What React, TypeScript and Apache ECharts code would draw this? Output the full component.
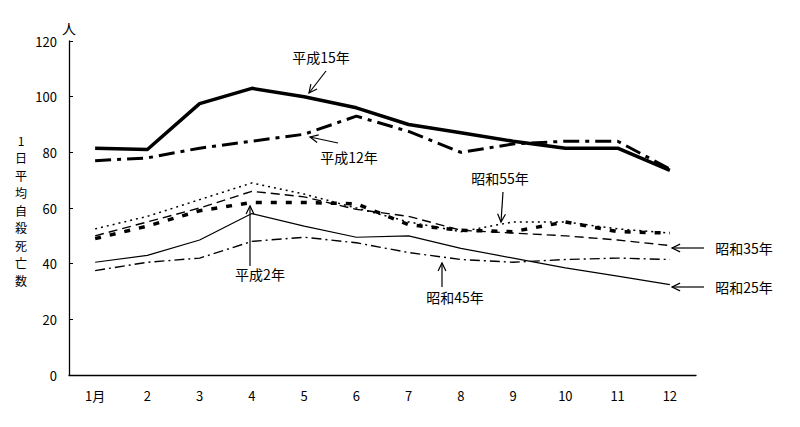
import React, { useEffect, useRef } from "react";
import * as echarts from "echarts";

const months = ["1月", "2", "3", "4", "5", "6", "7", "8", "9", "10", "11", "12"];
const yTicks = { min: 0, max: 120, interval: 20 };

const heisei15 = [81.5, 81, 97.5, 103, 100, 96, 90, 87, 84, 81.5, 81.5, 73.5];
const heisei12 = [77, 78, 81.5, 84, 86.5, 93, 87.5, 80, 83, 84, 84, 74];
const heisei2 = [49, 53.5, 59, 62, 62, 61.5, 54, 52, 51.5, 55, 51.5, 51];
const showa55 = [52.5, 57, 63, 69, 65, 60, 55, 51.5, 55, 55, 52.5, 51];
const showa35 = [50, 55, 60, 66, 64, 59.5, 57, 52, 51, 50, 48.5, 46.5];
const showa45 = [37.5, 40.5, 42, 48, 49.5, 47.5, 44, 41.5, 40.5, 41.5, 42, 41.5];
const showa25 = [40.5, 43, 48.5, 58, 53.5, 49.5, 50, 45.5, 42, 38.5, 35.5, 32.5];

const yAxisTitle = ["1", "日", "平", "均", "自", "殺", "死", "亡", "数"];

const FONT = '"Noto Sans CJK JP", "Noto Sans", sans-serif';

function arrow(x1: number, y1: number, x2: number, y2: number) {
  const ang = Math.atan2(y2 - y1, x2 - x1);
  const len = 9;
  const spread = 0.45;
  const p1 = [x2 - len * Math.cos(ang - spread), y2 - len * Math.sin(ang - spread)];
  const p2 = [x2 - len * Math.cos(ang + spread), y2 - len * Math.sin(ang + spread)];
  return {
    type: "group",
    silent: true,
    children: [
      { type: "line", shape: { x1, y1, x2, y2 }, style: { stroke: "#000", lineWidth: 1.2 } },
      {
        type: "polyline",
        shape: { points: [p1, [x2, y2], p2] },
        style: { stroke: "#000", lineWidth: 1.2, fill: null },
      },
    ],
  };
}

function label(text: string, x: number, y: number, size = 14) {
  return {
    type: "text",
    x,
    y,
    style: {
      text,
      fill: "#000",
      font: `${size}px ${FONT}`,
      align: "center",
      verticalAlign: "middle",
    },
  };
}

export default function App() {
  const ref = useRef<HTMLDivElement>(null);

  useEffect(() => {
    document.body.style.margin = "0";
    if (!ref.current) return;
    const chart = echarts.init(ref.current, null, { renderer: "svg" });

    const mk = (name: string, data: number[], width: number, type: any) => ({
      name,
      type: "line",
      data,
      showSymbol: false,
      symbol: "none",
      lineStyle: { color: "#000", width, type },
      z: 3,
    });

    chart.setOption({
      animation: false,
      backgroundColor: "#fff",
      grid: { left: 69, right: 104, top: 41, bottom: 52, outerBoundsMode: "none", containLabel: false },
      xAxis: {
        type: "category",
        data: months,
        boundaryGap: true,
        axisLine: { lineStyle: { color: "#000", width: 1.3 } },
        axisTick: { inside: true, length: 4, lineStyle: { color: "#000" } },
        axisLabel: { color: "#000", fontFamily: FONT, fontSize: 13, margin: 14 },
        splitLine: { show: false },
      },
      yAxis: {
        type: "value",
        min: yTicks.min,
        max: yTicks.max,
        interval: yTicks.interval,
        name: "人",
        nameLocation: "end",
        nameGap: 4,
        nameTextStyle: { color: "#000", fontFamily: FONT, fontSize: 14, align: "center" },
        axisLine: { show: true, lineStyle: { color: "#000", width: 1.3 } },
        axisTick: { show: true, inside: true, length: 4, lineStyle: { color: "#000" } },
        axisLabel: { color: "#000", fontFamily: FONT, fontSize: 13, margin: 12 },
        splitLine: { show: false },
      },
      series: [
        mk("平成15年", heisei15, 3.5, "solid"),
        mk("平成12年", heisei12, 3, [16, 6, 4, 6]),
        mk("平成2年", heisei2, 3.5, [6, 9]),
        mk("昭和55年", showa55, 1.5, [2, 4]),
        mk("昭和35年", showa35, 1.4, [9, 5]),
        mk("昭和45年", showa45, 1.4, [10, 4, 2, 4]),
        mk("昭和25年", showa25, 1.2, "solid"),
      ],
      graphic: [
        ...yAxisTitle.map((ch, i) => label(ch, 21, 140 + i * 17.5, 12)),
        label("平成15年", 321, 57),
        arrow(326, 71, 309, 93),
        label("平成12年", 349, 157),
        arrow(338, 143, 310, 137),
        label("平成2年", 260, 274),
        arrow(250, 266, 250, 206),
        label("昭和55年", 500, 178),
        arrow(503, 192, 501, 222),
        label("昭和45年", 455, 297),
        arrow(442, 287, 442, 263),
        label("昭和35年", 744, 248),
        arrow(704, 248, 672, 248),
        label("昭和25年", 744, 287),
        arrow(704, 287, 672, 287),
      ],
    });

    return () => chart.dispose();
  }, []);

  return <div ref={ref} style={{ width: 800, height: 427 }} />;
}
